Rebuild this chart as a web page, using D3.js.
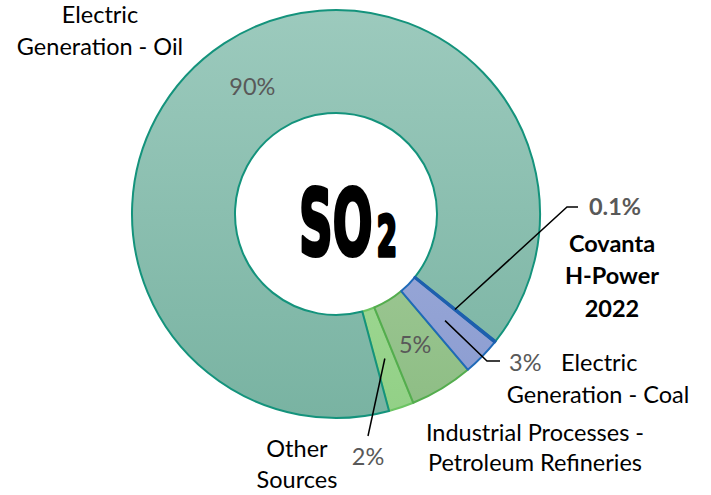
<!DOCTYPE html>
<html>
<head>
<meta charset="utf-8">
<script src="https://cdn.jsdelivr.net/npm/d3@7"></script>
<style>
  body { margin: 0; background: #fff; }
  svg { display: block; }
</style>
</head>
<body>
<script>
// SO2 emission sources, share of total (%)
var categories = ["Covanta H-Power 2022", "Electric Generation - Coal", "Industrial Processes - Petroleum Refineries", "Other Sources", "Electric Generation - Oil"];
var values = [0.1, 3, 5, 2, 90];
var valueLabels = ["0.1%", "3%", "5%", "2%", "90%"];

var w = 711, h = 495;
var cx = 336, cy = 214;
var outerR = 204, innerR = 101;
var fs = 23.5;

var fills = ["#8e9fd3", "url(#gCoal)", "url(#gInd)", "url(#gOther)", "url(#gOil)"];
var strokes = ["#1d5fae", "#1f6ab8", "#54ad4e", "#6cc463", "#14937c"];

var svg = d3.select("body").append("svg").attr("width", w).attr("height", h)
  .style("font-family", "Lato, 'Open Sans', sans-serif");

var defs = svg.append("defs");
function grad(id, c1, c2) {
  var g = defs.append("linearGradient").attr("id", id)
    .attr("gradientUnits", "userSpaceOnUse")
    .attr("x1", 0).attr("y1", -outerR).attr("x2", 0).attr("y2", outerR);
  g.append("stop").attr("offset", "0%").attr("stop-color", c1);
  g.append("stop").attr("offset", "100%").attr("stop-color", c2);
}
grad("gOil", "#9ccabd", "#79b3a2");
grad("gCoal", "#aab7e0", "#8a9bd0");
grad("gInd", "#b3d6a8", "#8dbd84");
grad("gOther", "#b2e3a7", "#92d086");

var pie = d3.pie().sort(null).value(function(d) { return d; })
  .startAngle(128.6 * Math.PI / 180)
  .endAngle(128.6 * Math.PI / 180 + 2 * Math.PI);
var arcs = pie(values);
var arc = d3.arc().innerRadius(innerR).outerRadius(outerR);

var g = svg.append("g").attr("transform", "translate(" + cx + "," + cy + ")");

// paint order decides which border shows on shared edges
var order = [3, 2, 1, 4, 0];
g.selectAll("path.slice").data(order.map(function(i) { return arcs[i]; })).enter()
  .append("path").attr("class", "slice")
  .attr("d", arc)
  .attr("fill", function(d) { return fills[d.index]; })
  .attr("stroke", function(d) { return strokes[d.index]; })
  .attr("stroke-width", function(d) { return d.index === 0 ? 2.5 : 2; })
  .attr("stroke-linejoin", "round");

function cen(i) {
  var c = arc.centroid(arcs[i]);
  return [c[0] + cx, c[1] + cy];
}

var gray = "#595959";

// inside labels
[4, 2].forEach(function(i) {
  var c = cen(i);
  svg.append("text").attr("x", c[0]).attr("y", c[1] + 9)
    .attr("text-anchor", "middle").attr("font-size", fs).attr("fill", gray)
    .text(valueLabels[i]);
});

// leader lines
var line = d3.line();
var leaders = [
  [cen(0), [567, 207], [578, 207]],
  [cen(1), [487, 361], [500, 361]],
  [cen(3), [368, 436]]
];
svg.selectAll("path.leader").data(leaders).enter().append("path")
  .attr("class", "leader")
  .attr("d", line).attr("fill", "none")
  .attr("stroke", "#000").attr("stroke-width", 1.5);

function txt(x, y, s, opt) {
  opt = opt || {};
  return svg.append("text").attr("x", x).attr("y", y)
    .attr("text-anchor", opt.anchor || "middle")
    .attr("font-size", fs)
    .attr("font-weight", opt.bold ? "bold" : "normal")
    .attr("fill", opt.fill || "#000")
    .text(s);
}

txt(100, 23, "Electric");
txt(100, 55, "Generation - Oil");

txt(615, 215, valueLabels[0], {bold: true, fill: gray});
txt(612, 252, "Covanta", {bold: true});
txt(612, 284, "H-Power", {bold: true});
txt(612, 317, "2022", {bold: true});

txt(509, 371, valueLabels[1], {anchor: "start", fill: gray});
txt(561, 371, "Electric", {anchor: "start"});
txt(598, 403, "Generation - Coal");

txt(535, 441, "Industrial Processes -");
txt(535, 471, "Petroleum Refineries");

txt(297, 457, "Other");
txt(297, 488, "Sources");
txt(368, 465, valueLabels[3], {fill: gray});

// center formula, condensed heavy look
var f = svg.append("text")
  .attr("transform", "translate(299,255) scale(0.52,1)")
  .attr("font-family", "'DejaVu Sans', sans-serif").attr("font-weight", "bold")
  .attr("fill", "#000").attr("stroke", "#000").attr("stroke-width", 4)
  .attr("stroke-linejoin", "round").attr("vector-effect", "non-scaling-stroke");
f.append("tspan").attr("font-size", 90).text("SO");
f.append("tspan").attr("font-size", 56).attr("dx", 8).text("2");
</script>
</body>
</html>
